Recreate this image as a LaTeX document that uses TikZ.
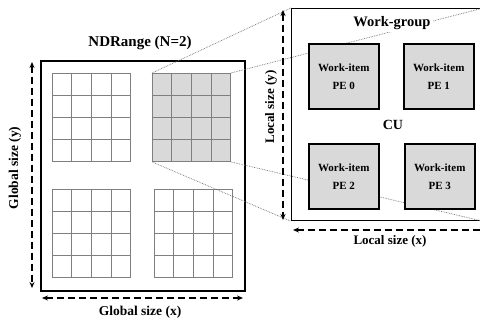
\documentclass[tikz,border=0pt]{standalone}
\usepackage{fontspec}
\setmainfont{Liberation Serif}
\usetikzlibrary{calc,arrows.meta}
\definecolor{cellgray}{HTML}{D9D9D9}
\definecolor{gridline}{HTML}{7F7F7F}
\begin{document}
\begin{tikzpicture}[x=1pt,y=-1pt,
  outerbox/.style={draw=black,line width=1.5pt,fill=white,minimum width=204pt,minimum height=230pt,anchor=north west,inner sep=0pt},
  wgbox/.style={draw=black,line width=1.3pt,fill=white,minimum width=191pt,minimum height=212pt,anchor=north west,inner sep=0pt},
  gridbox/.style={draw=gridline,line width=0.9pt,minimum width=78pt,minimum height=88pt,anchor=north west,inner sep=0pt},
  pebox/.style={draw=black,line width=1.5pt,fill=cellgray,minimum width=70pt,minimum height=65pt,anchor=north west,inner sep=0pt,align=center,font=\fontsize{11}{18}\selectfont\bfseries},
  label/.style={font=\fontsize{13.5}{15}\selectfont\bfseries,inner sep=1pt},
  dimarrow/.style={line width=1.5pt,dash pattern=on 7pt off 4pt,{Stealth[length=6pt,width=5pt]}-{Stealth[length=6pt,width=5pt]}},
  proj/.style={draw=gray!85!black,line width=0.7pt,densely dotted}
]
\useasboundingbox (0,0) rectangle (480,322);
% left NDRange box
\node[outerbox] (nd) at (40,60) {};
\node[font=\fontsize{15}{17}\selectfont\bfseries] (title) at (140,43) {NDRange (N=2)};
% grids
\node[gridbox] (g1) at (52,73) {};
\node[gridbox,fill=cellgray] (g2) at (152,73) {};
\node[gridbox] (g3) at (52,189) {};
\node[gridbox] (g4) at (154,189) {};
\foreach \g in {g1,g2,g3,g4}{
  \foreach \f in {0.25,0.5,0.75}{
    \draw[draw=gridline,line width=0.9pt] ($(\g.north west)!\f!(\g.north east)$) -- ($(\g.south west)!\f!(\g.south east)$);
    \draw[draw=gridline,line width=0.9pt] ($(\g.north west)!\f!(\g.south west)$) -- ($(\g.north east)!\f!(\g.south east)$);
  }
}
% global arrows
\coordinate (gyt) at (32,62);
\coordinate (gyb) at (32,288);
\draw[dimarrow] (gyt) -- (gyb);
\node[label,rotate=90] (gylab) at (15,168) {Global size (y)};
\coordinate (gxl) at (42,298);
\coordinate (gxr) at (243,298);
\draw[dimarrow] (gxl) -- (gxr);
\node[label] (gxlab) at (140,312) {Global size (x)};
% work-group box
\node[wgbox] (wg) at (291,8) {};
% projection lines
\draw[proj] (g2.north west) -- (wg.north west);
\draw[proj] (g2.north east) -- (wg.north east);
\draw[proj] (g2.south west) -- (wg.south west);
\draw[proj] (g2.south east) -- (wg.south east);
% PEs
\node[pebox] (pe0) at (308,43) {Work-item\\PE 0};
\node[pebox] (pe1) at (403,43) {Work-item\\PE 1};
\node[pebox] (pe2) at (308,143) {Work-item\\PE 2};
\node[pebox] (pe3) at (404,143) {Work-item\\PE 3};
\node[fill=white,inner sep=2pt,font=\fontsize{14.5}{16}\selectfont\bfseries] (wglab) at (392,23) {Work-group};
\node[font=\fontsize{14}{16}\selectfont\bfseries] (cu) at (393,125) {CU};
% local arrows
\coordinate (lyt) at (283,10);
\coordinate (lyb) at (283,220);
\draw[dimarrow] (lyt) -- (lyb);
\node[label,font=\fontsize{13}{15}\selectfont\bfseries,rotate=90] (lylab) at (271,107) {Local size (y)};
\coordinate (lxl) at (293,230);
\coordinate (lxr) at (486,230);
\draw[dimarrow] (lxl) -- (lxr);
\node[label,font=\fontsize{13}{15}\selectfont\bfseries] (lxlab) at (390,241) {Local size (x)};
\end{tikzpicture}
\end{document}
